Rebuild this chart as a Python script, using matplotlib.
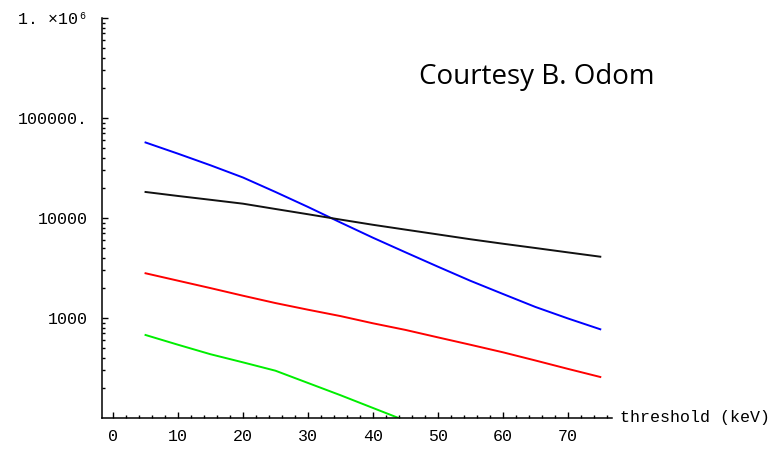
import matplotlib
matplotlib.use("Agg")
import matplotlib.pyplot as plt
import matplotlib.ticker as mt
import numpy as np

# threshold values (keV)
threshold = [5, 10, 15, 20, 25, 30, 35, 40, 45, 50, 55, 60, 65, 70, 75]

# values
blue = [56900, 43950, 33650, 25400, 18200, 12900, 9020, 6350, 4540, 3260, 2355, 1740, 1290, 990, 771]
black = [18200, 16600, 15200, 13900, 12300, 10900, 9640, 8550, 7650, 6850, 6130, 5530, 5010, 4530, 4100]
red = [2800, 2360, 1990, 1670, 1410, 1210, 1045, 885, 760, 640, 540, 454, 376, 310, 257]
green_x = [5, 10, 15, 20, 25, 30, 35, 40, 45]
green = [676, 540, 434, 360, 297, 224, 169, 126, 94]

xticks = [0, 10, 20, 30, 40, 50, 60, 70]
yticks = [1000, 10000, 100000, 1000000]
ylabels = ["1000", "10000", "100000.", "1. ×10⁶"]

mono = ["Liberation Mono", "DejaVu Sans Mono"]

fig = plt.figure(figsize=(7.81, 4.53), dpi=100)
ax = fig.add_axes([0.1306, 0.0773, 0.6530, 0.8830])

ax.plot(threshold, blue, color="#0000ff", lw=1.4)
ax.plot(threshold, black, color="#111111", lw=1.4)
ax.plot(threshold, red, color="#ff0000", lw=1.4)
ax.plot(green_x, green, color="#00ee00", lw=1.4)

ax.set_yscale("log")
ax.set_xlim(-1.7, 76.8)
ax.set_ylim(100, 1.0e6)

for s in ["top", "right"]:
    ax.spines[s].set_visible(False)
for s in ["left", "bottom"]:
    ax.spines[s].set_linewidth(1.1)
    ax.spines[s].set_color("black")

ax.set_xticks(xticks)
ax.xaxis.set_minor_locator(mt.MultipleLocator(2))
ax.set_yticks(yticks)
ax.yaxis.set_major_formatter(mt.FixedFormatter(ylabels))
ax.yaxis.set_minor_locator(mt.LogLocator(base=10, subs=np.arange(2, 10)))
ax.yaxis.set_minor_formatter(mt.NullFormatter())

ax.tick_params(which="major", direction="in", length=4, width=1, pad=8,
               labelsize=12, colors="black")
ax.tick_params(which="minor", direction="in", length=2.5, width=1)
ax.tick_params(axis="y", which="major", pad=10)
for lab in ax.get_xticklabels() + ax.get_yticklabels():
    lab.set_family(mono)

ax.text(1.015, 0.0, "threshold (keV)", transform=ax.transAxes, ha="left",
        va="center", fontsize=12, family=mono)

fig.text(0.6875, 0.83, "Courtesy B. Odom", ha="center", va="center",
         fontsize=20, family=["Open Sans", "DejaVu Sans"])

fig.savefig("out.png", dpi=100)
